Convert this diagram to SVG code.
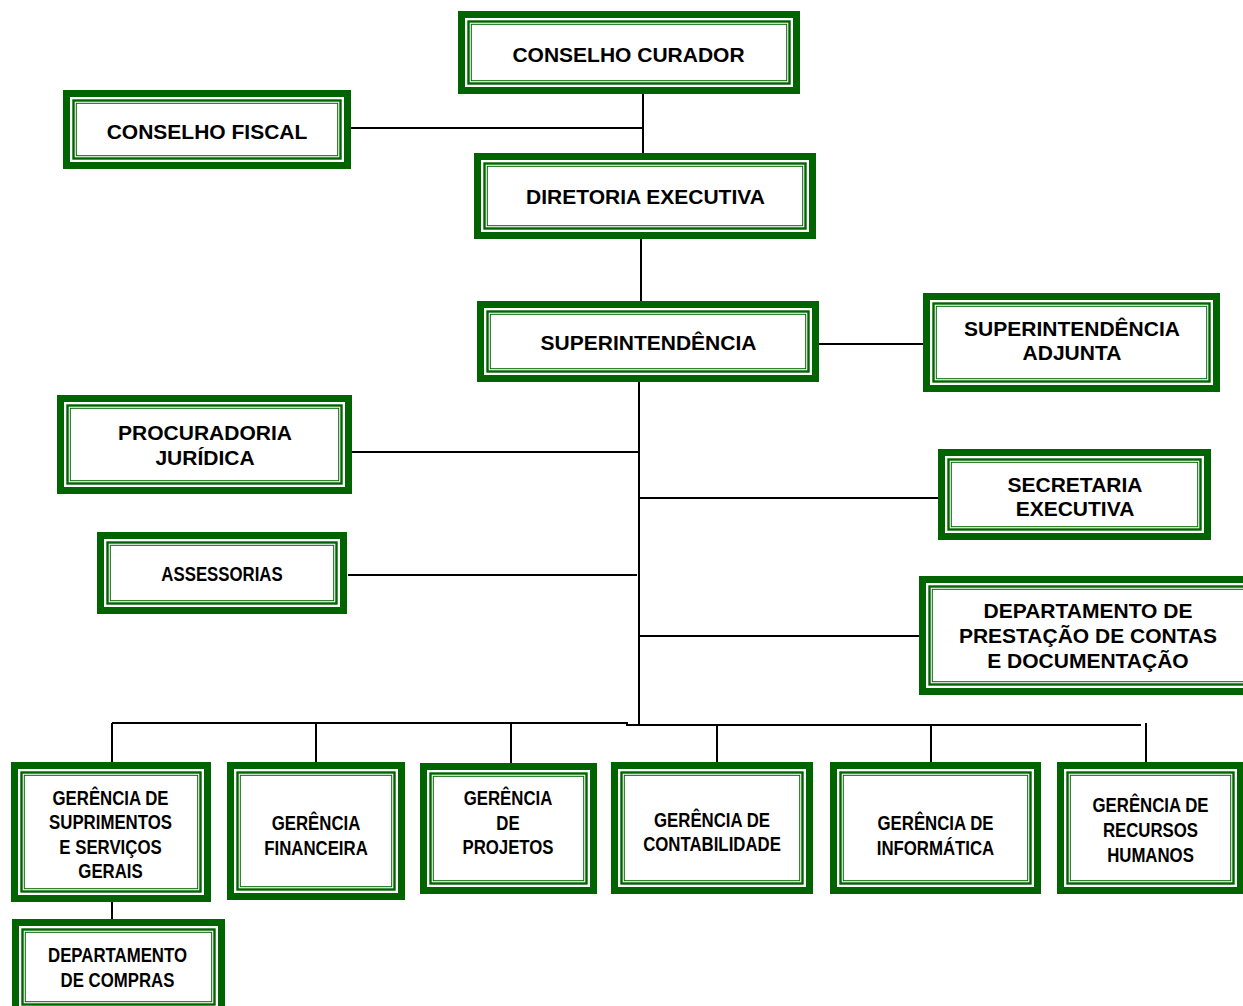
<svg xmlns="http://www.w3.org/2000/svg" width="1243" height="1006" viewBox="0 0 1243 1006">
<style>
.o{fill:#fff;stroke:#006400;stroke-width:7}
.i1{fill:none;stroke:#006400;stroke-width:2.4}
.i2{fill:none;stroke:#006400;stroke-width:1}
.t{font-family:"Liberation Sans",Arial,sans-serif;font-weight:bold;font-size:21px;fill:#000;text-anchor:middle}
.n{font-family:"Liberation Sans",Arial,sans-serif;font-weight:bold;font-size:21px;fill:#000;text-anchor:middle}
.c{fill:none;stroke:#000;stroke-width:2}
</style>
<rect width="1243" height="1006" fill="#fff"/>
<g id="connectors">
<path class="c" d="M643,94V153"/>
<path class="c" d="M351,128H643"/>
<path class="c" d="M641,239V301"/>
<path class="c" d="M819,344H923"/>
<path class="c" d="M639,382V725"/>
<path class="c" d="M352,452H639"/>
<path class="c" d="M348,575H637"/>
<path class="c" d="M639,498H938"/>
<path class="c" d="M639,636H919"/>
<path class="c" d="M112,723H627V725H1141"/>
<path class="c" d="M112,723V762"/>
<path class="c" d="M316,723V762"/>
<path class="c" d="M511,723V763"/>
<path class="c" d="M717,725V762"/>
<path class="c" d="M931,725V762"/>
<path class="c" d="M1146,723V762"/>
<path class="c" d="M112,900V919"/>
</g>
<g id="conselho-curador">
<rect class="o" x="461.5" y="14.5" width="335" height="76"/>
<rect class="i1" x="468.5" y="21.5" width="321" height="62"/>
<rect class="i2" x="471.3" y="24.3" width="315.4" height="56.4"/>
<text class="t" x="628.5" y="62">CONSELHO CURADOR</text>
</g>
<g id="conselho-fiscal">
<rect class="o" x="66.5" y="93.5" width="281" height="72"/>
<rect class="i1" x="73.5" y="100.5" width="267" height="58"/>
<rect class="i2" x="76.3" y="103.3" width="261.4" height="52.4"/>
<text class="t" x="207" y="139">CONSELHO FISCAL</text>
</g>
<g id="diretoria-executiva">
<rect class="o" x="477.5" y="156.5" width="335" height="79"/>
<rect class="i1" x="484.5" y="163.5" width="321" height="65"/>
<rect class="i2" x="487.3" y="166.3" width="315.4" height="59.4"/>
<text class="t" x="645.5" y="204">DIRETORIA EXECUTIVA</text>
</g>
<g id="superintendencia">
<rect class="o" x="480.5" y="304.5" width="335" height="74"/>
<rect class="i1" x="487.5" y="311.5" width="321" height="60"/>
<rect class="i2" x="490.3" y="314.3" width="315.4" height="54.4"/>
<text class="t" x="648.5" y="350">SUPERINTENDÊNCIA</text>
</g>
<g id="superintendencia-adjunta">
<rect class="o" x="926.5" y="296.5" width="290" height="92"/>
<rect class="i1" x="933.5" y="303.5" width="276" height="78"/>
<rect class="i2" x="936.3" y="306.3" width="270.4" height="72.4"/>
<text class="t" x="1072" y="336">SUPERINTENDÊNCIA</text>
<text class="t" x="1072" y="360">ADJUNTA</text>
</g>
<g id="procuradoria-juridica">
<rect class="o" x="60.5" y="398.5" width="288" height="92"/>
<rect class="i1" x="67.5" y="405.5" width="274" height="78"/>
<rect class="i2" x="70.3" y="408.3" width="268.4" height="72.4"/>
<text class="t" x="205" y="440">PROCURADORIA</text>
<text class="t" x="205" y="465">JURÍDICA</text>
</g>
<g id="secretaria-executiva">
<rect class="o" x="941.5" y="452.5" width="266" height="84"/>
<rect class="i1" x="948.5" y="459.5" width="252" height="70"/>
<rect class="i2" x="951.3" y="462.3" width="246.4" height="64.4"/>
<text class="t" x="1075" y="492">SECRETARIA</text>
<text class="t" x="1075" y="516">EXECUTIVA</text>
</g>
<g id="assessorias">
<rect class="o" x="100.5" y="535.5" width="243" height="75"/>
<rect class="i1" x="107.5" y="542.5" width="229" height="61"/>
<rect class="i2" x="110.3" y="545.3" width="223.4" height="55.4"/>
<g transform="translate(222,0) scale(0.8,1)"><text class="n" x="0" y="581">ASSESSORIAS</text></g>
</g>
<g id="departamento-prestacao-contas">
<rect class="o" x="922.5" y="579.5" width="331" height="112"/>
<rect class="i1" x="929.5" y="586.5" width="317" height="98"/>
<rect class="i2" x="932.3" y="589.3" width="311.4" height="92.4"/>
<text class="t" x="1088" y="618">DEPARTAMENTO DE</text>
<text class="t" x="1088" y="643">PRESTAÇÃO DE CONTAS</text>
<text class="t" x="1088" y="668">E DOCUMENTAÇÃO</text>
</g>
<g id="gerencia-suprimentos">
<rect class="o" x="14.5" y="765.5" width="193" height="133"/>
<rect class="i1" x="21.5" y="772.5" width="179" height="119"/>
<rect class="i2" x="24.3" y="775.3" width="173.4" height="113.4"/>
<g transform="translate(110.5,0) scale(0.8,1)">
<text class="n" x="0" y="805">GERÊNCIA DE</text>
<text class="n" x="0" y="829">SUPRIMENTOS</text>
<text class="n" x="0" y="854">E SERVIÇOS</text>
<text class="n" x="0" y="878">GERAIS</text>
</g>
</g>
<g id="gerencia-financeira">
<rect class="o" x="230.5" y="765.5" width="171" height="131"/>
<rect class="i1" x="237.5" y="772.5" width="157" height="117"/>
<rect class="i2" x="240.3" y="775.3" width="151.4" height="111.4"/>
<g transform="translate(316,0) scale(0.8,1)">
<text class="n" x="0" y="830">GERÊNCIA</text>
<text class="n" x="0" y="855">FINANCEIRA</text>
</g>
</g>
<g id="gerencia-projetos">
<rect class="o" x="423.5" y="766.5" width="170" height="124"/>
<rect class="i1" x="430.5" y="773.5" width="156" height="110"/>
<rect class="i2" x="433.3" y="776.3" width="150.4" height="104.4"/>
<g transform="translate(508,0) scale(0.8,1)">
<text class="n" x="0" y="805">GERÊNCIA</text>
<text class="n" x="0" y="830">DE</text>
<text class="n" x="0" y="854">PROJETOS</text>
</g>
</g>
<g id="gerencia-contabilidade">
<rect class="o" x="614.5" y="765.5" width="195" height="125"/>
<rect class="i1" x="621.5" y="772.5" width="181" height="111"/>
<rect class="i2" x="624.3" y="775.3" width="175.4" height="105.4"/>
<g transform="translate(712,0) scale(0.8,1)">
<text class="n" x="0" y="827" font-size="20">GERÊNCIA DE</text>
<text class="n" x="0" y="851" font-size="20">CONTABILIDADE</text>
</g>
</g>
<g id="gerencia-informatica">
<rect class="o" x="833.5" y="765.5" width="204" height="125"/>
<rect class="i1" x="840.5" y="772.5" width="190" height="111"/>
<rect class="i2" x="843.3" y="775.3" width="184.4" height="105.4"/>
<g transform="translate(935.5,0) scale(0.8,1)">
<text class="n" x="0" y="830">GERÊNCIA DE</text>
<text class="n" x="0" y="855">INFORMÁTICA</text>
</g>
</g>
<g id="gerencia-recursos-humanos">
<rect class="o" x="1060.5" y="765.5" width="180" height="125"/>
<rect class="i1" x="1067.5" y="772.5" width="166" height="111"/>
<rect class="i2" x="1070.3" y="775.3" width="160.4" height="105.4"/>
<g transform="translate(1150.5,0) scale(0.8,1)">
<text class="n" x="0" y="812">GERÊNCIA DE</text>
<text class="n" x="0" y="837">RECURSOS</text>
<text class="n" x="0" y="862">HUMANOS</text>
</g>
</g>
<g id="departamento-compras">
<rect class="o" x="15.5" y="922.5" width="206" height="89"/>
<rect class="i1" x="22.5" y="929.5" width="192" height="75"/>
<rect class="i2" x="25.3" y="932.3" width="186.4" height="69.4"/>
<g transform="translate(117.5,0) scale(0.8,1)">
<text class="n" x="0" y="962">DEPARTAMENTO</text>
<text class="n" x="0" y="987">DE COMPRAS</text>
</g>
</g>
</svg>
